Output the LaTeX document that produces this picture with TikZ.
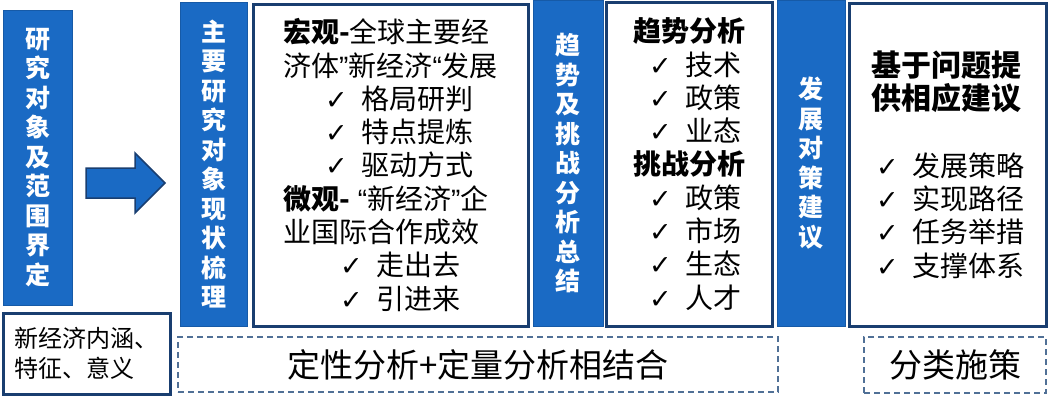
\documentclass[tikz,border=0pt]{standalone}
\usepackage{fontspec}
\setmainfont{Noto Sans CJK SC}
\newfontfamily\symfont{DejaVu Sans}
\newfontfamily\quotefont{Liberation Sans}
\definecolor{boxblue}{RGB}{26,106,196}
\definecolor{framenavy}{RGB}{25,62,112}
\definecolor{dashblue}{RGB}{80,112,150}
\newcommand{\tick}{\makebox[36pt][l]{\symfont\fontsize{27}{27}\selectfont ✓}}
\newcommand{\openq}{{\quotefont “}}
\newcommand{\closeq}{{\quotefont ”}}

\begin{document}
\begin{tikzpicture}[x=1pt,y=-1pt]
    \tikzstyle{bluebar}=[rectangle, fill=boxblue, draw=boxblue!85!black, line width=1pt, inner sep=0pt,
                         text=white, font=\bfseries\fontsize{25}{29.5}\selectfont, align=center]
    \tikzstyle{frame}=[rectangle, draw=framenavy, line width=3pt, fill=white, inner sep=0pt,
                       align=left, font=\fontsize{28}{33.3}\selectfont]
    \tikzstyle{dashframe}=[rectangle, draw=dashblue, line width=1.3pt, dash pattern=on 6pt off 4pt,
                           inner sep=0pt, font=\fontsize{33}{36}\selectfont]
    \useasboundingbox (0,0) rectangle (1048,407);

    % left column
    \node[bluebar, minimum width=69pt, minimum height=295pt] (scopebar) at (37.5,157.5)
        {研\\究\\对\\象\\及\\范\\围\\界\\定};
    \node[frame, minimum width=167pt, minimum height=81pt, font=\fontsize{24}{30}\selectfont] (scopenote) at (86.5,353.5)
        {新经济内涵、\\特征、意义};

    % big arrow
    \filldraw[fill=boxblue, draw=framenavy, line width=1.5pt] (86,168) -- (135,168) -- (135,153)
        -- (165,183) -- (135,213) -- (135,198) -- (86,198) -- cycle;

    % status
    \node[bluebar, minimum width=67pt, minimum height=324pt] (statusbar) at (213.5,164)
        {主\\要\\研\\究\\对\\象\\现\\状\\梳\\理};
    \node[frame, minimum width=275pt, minimum height=322pt] (statusbox) at (390.5,165)
        {{\bfseries 宏观-}全球主要经\\
         济体\closeq 新经济\openq 发展\\
         \hspace*{42pt}\tick 格局研判\\
         \hspace*{42pt}\tick 特点提炼\\
         \hspace*{42pt}\tick 驱动方式\\
         {\bfseries 微观-}\hspace{8pt}\openq 新经济\closeq 企\\
         业国际合作成效\\
         \hspace*{57pt}\tick 走出去\\
         \hspace*{57pt}\tick 引进来};

    % trend
    \node[bluebar, minimum width=70pt, minimum height=326pt] (trendbar) at (568,163)
        {趋\\势\\及\\挑\\战\\分\\析\\总\\结};
    \node[frame, minimum width=166pt, minimum height=324pt] (trendbox) at (689,164)
        {{\bfseries 趋势分析}\\
         \hspace*{16pt}\tick 技术\\
         \hspace*{16pt}\tick 政策\\
         \hspace*{16pt}\tick 业态\\
         {\bfseries 挑战分析}\\
         \hspace*{16pt}\tick 政策\\
         \hspace*{16pt}\tick 市场\\
         \hspace*{16pt}\tick 生态\\
         \hspace*{16pt}\tick 人才};

    % advice
    \node[bluebar, minimum width=68pt, minimum height=326pt] (advicebar) at (811,163)
        {发\\展\\对\\策\\建\\议};
    \node[frame, minimum width=197pt, minimum height=323pt] (advicebox) at (947.5,164.5)
        {{\bfseries\fontsize{30}{33.3}\selectfont 基于问题提}\\
         {\bfseries\fontsize{30}{33.3}\selectfont 供相应建议}\\[33.3pt]
         \hspace*{5pt}\tick 发展策略\\
         \hspace*{5pt}\tick 实现路径\\
         \hspace*{5pt}\tick 任务举措\\
         \hspace*{5pt}\tick 支撑体系};

    % methods
    \node[dashframe, minimum width=600pt, minimum height=55pt] (method) at (478,364.5) {定性分析+定量分析相结合};
    \node[dashframe, minimum width=182pt, minimum height=56pt] (classify) at (955,365) {分类施策};
\end{tikzpicture}
\end{document}
